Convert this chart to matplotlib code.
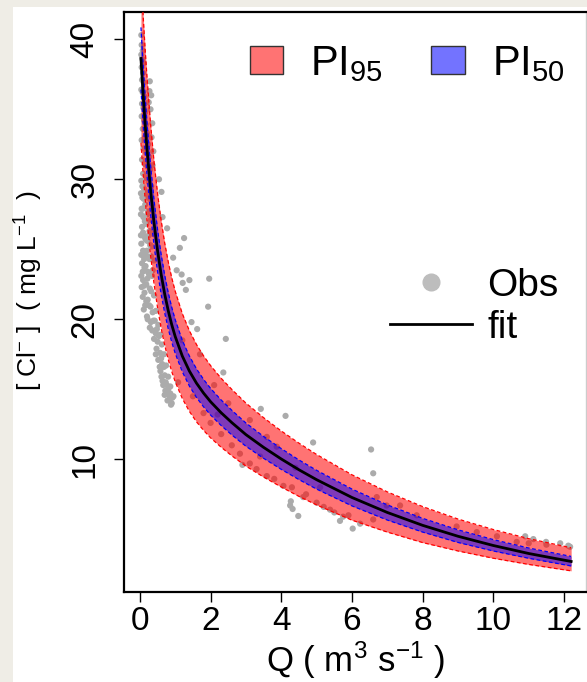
import matplotlib.pyplot as plt
from matplotlib.patches import Patch, Rectangle
from matplotlib.lines import Line2D

plt.rcParams['font.family'] = ['Liberation Sans', 'DejaVu Sans']
plt.rcParams['mathtext.fontset'] = 'custom'
plt.rcParams['mathtext.rm'] = 'Liberation Sans'
plt.rcParams['mathtext.it'] = 'Liberation Sans:italic'

# fitted curve and prediction intervals
q_fit = [0.03, 0.06, 0.1, 0.15, 0.2, 0.3, 0.4, 0.5, 0.6, 0.7, 0.8, 0.9, 1.0,
         1.2, 1.4, 1.6, 1.8, 2.0, 2.3, 2.6, 3.0, 3.5, 4.0, 4.5, 5.0, 6.0, 7.0,
         8.0, 9.0, 10.0, 11.0, 12.2]
c_fit = [38.63, 37.33, 35.72, 33.88, 32.20, 29.29, 26.89, 24.89, 23.22, 21.82,
         20.63, 19.62, 18.76, 17.37, 16.30, 15.44, 14.73, 14.11, 13.32, 12.62,
         11.76, 10.85, 10.02, 9.25, 8.54, 7.27, 6.20, 5.28, 4.50, 3.84, 3.27, 2.70]
up95 = [44.6, 43.16, 41.32, 39.22, 37.31, 33.99, 31.25, 28.97, 27.07, 25.47,
        24.12, 22.97, 21.99, 20.40, 19.18, 18.20, 17.39, 16.69, 15.78, 14.99,
        14.01, 12.97, 12.02, 11.15, 10.34, 8.89, 7.67, 6.62, 5.73, 4.98, 4.33, 3.68]
lo95 = [32.6, 31.50, 30.12, 28.54, 27.09, 24.59, 22.53, 20.81, 19.37, 18.17,
        17.14, 16.27, 15.53, 14.34, 13.42, 12.68, 12.07, 11.53, 10.86, 10.25,
        9.51, 8.73, 8.02, 7.35, 6.74, 5.65, 4.80, 4.05, 3.45, 2.93, 2.49, 2.03]
up50 = [40.85, 39.49, 37.79, 35.86, 34.09, 31.03, 28.50, 26.40, 24.64, 23.17,
        21.92, 20.86, 19.96, 18.49, 17.37, 16.46, 15.71, 15.06, 14.23, 13.50,
        12.59, 11.63, 10.76, 9.95, 9.21, 7.87, 6.74, 5.78, 4.96, 4.26, 3.66, 3.06]
lo50 = [36.41, 35.17, 33.65, 31.90, 30.31, 27.55, 25.28, 23.38, 21.80, 20.47,
        19.34, 18.38, 17.56, 16.25, 15.23, 14.42, 13.75, 13.16, 12.41, 11.74,
        10.93, 10.07, 9.28, 8.55, 7.87, 6.67, 5.66, 4.80, 4.06, 3.45, 2.93, 2.38]

# observations (Q, [Cl-])
obs_q = [0.04, 0.05, 0.04, 0.07, 0.05, 0.09, 0.06, 0.11, 0.04, 0.08, 0.13, 0.06,
         0.10, 0.15, 0.05, 0.12, 0.17, 0.08, 0.20, 0.14, 0.05, 0.23, 0.10, 0.18,
         0.26, 0.06, 0.13, 0.22, 0.29, 0.09, 0.17, 0.04, 0.25, 0.32, 0.12, 0.20,
         0.07, 0.28, 0.15, 0.35, 0.05, 0.23, 0.10, 0.31, 0.18, 0.06, 0.27, 0.38,
         0.13, 0.21, 0.04, 0.33, 0.09, 0.17, 0.27, 0.40, 0.06, 0.13, 0.22, 0.34,
         0.09, 0.18, 0.05, 0.28, 0.13, 0.40, 0.22,
         0.08, 0.10, 0.28, 0.32, 0.30, 0.35, 0.33, 0.38, 0.36, 0.27, 0.25,
         0.03, 0.07, 0.11, 0.19, 0.03, 0.08, 0.14, 0.21, 0.25, 0.03, 0.09, 0.16,
         0.29, 0.04, 0.12, 0.20, 0.31, 0.08, 0.16, 0.26, 0.36, 0.04, 0.12, 0.21,
         0.32, 0.08, 0.18, 0.26, 0.36, 0.11, 0.22, 0.31, 0.42, 0.35, 0.48, 0.40,
         0.54, 0.45, 0.60, 0.56, 0.68, 0.61, 0.73, 0.66, 0.80, 0.70, 0.86, 0.84,
         0.95, 0.88,
         0.15, 0.30, 0.45, 0.20, 0.38, 0.52, 0.28, 0.45, 0.58, 0.50, 0.62, 0.47,
         0.57, 0.68, 0.52, 0.63, 0.74, 0.58, 0.70, 0.80, 0.64, 0.76, 0.86, 0.72,
         0.82, 0.92, 0.78, 0.90,
         0.54, 0.61, 0.64, 0.77, 1.25, 1.13, 0.94, 1.04, 1.18, 1.40, 1.96, 1.21,
         1.30, 1.93, 1.46, 1.62, 2.43, 2.36, 1.08, 3.42, 4.12, 4.90, 6.54, 6.60,
         4.27, 4.25, 4.32, 4.48, 6.02, 5.66, 10.9, 11.13, 11.49, 11.89, 12.12, 12.17,
         1.2, 1.5, 1.7, 1.8, 2.0, 2.1, 2.2, 2.3, 2.5, 2.6, 2.83, 3.11, 3.11, 3.59,
         3.59, 3.87, 4.06, 4.62, 5.0, 5.38, 5.75, 6.23, 6.6, 6.7, 6.98, 7.36, 7.83,
         8.96, 9.53, 10.1, 10.66, 11.0, 11.5,
         2.9, 3.3, 3.8, 4.3, 4.7, 5.2, 5.5, 5.9, 3.4, 4.4, 5.1]
obs_c = [40.3, 39.6, 38.9, 38.6, 38.0, 37.6, 37.1, 36.9, 36.4, 36.2, 35.9, 35.4,
         35.1, 34.8, 34.5, 34.2, 33.9, 33.6, 33.3, 33.0, 32.8, 32.5, 32.2, 31.9,
         31.6, 31.4, 31.1, 30.9, 30.7, 30.4, 30.1, 29.9, 29.8, 29.5, 29.3, 29.0,
         28.7, 28.6, 28.2, 28.0, 27.9, 27.7, 27.3, 27.1, 26.8, 26.6, 26.3, 26.1,
         25.9, 25.6, 25.4, 25.2, 24.9, 24.6, 24.3, 24.2, 24.0, 23.7, 23.4, 23.1,
         22.8, 22.5, 22.3, 22.2, 21.9, 21.7, 21.4,
         39.2, 38.3, 37.0, 36.0, 35.0, 34.0, 33.0, 32.0, 31.0, 36.3, 35.5,
         29.0, 29.5, 28.6, 28.9, 27.5, 27.9, 27.0, 27.5, 26.0, 26.0, 26.2, 25.7,
         25.3, 24.6, 24.3, 24.9, 24.5, 23.4, 23.8, 23.2, 23.5, 23.1, 22.4, 22.9,
         22.0, 21.6, 21.3, 21.0, 20.5, 20.7, 20.0, 19.8, 19.9, 19.2, 19.3, 18.6,
         18.8, 17.5, 17.2, 16.6, 16.6, 15.9, 15.5, 15.3, 15.0, 14.6, 14.7, 14.3,
         14.5, 13.9,
         21.0, 20.9, 20.6, 20.2, 19.9, 19.6, 19.4, 19.0, 18.9, 18.4, 18.2, 17.9,
         17.6, 17.5, 17.1, 16.8, 16.7, 16.3, 16.0, 15.9, 15.6, 15.3, 15.2, 14.9,
         14.6, 14.4, 14.2, 14.0,
         30.0, 29.1, 27.3, 26.5, 25.8, 25.1, 24.4, 23.5, 23.2, 22.8, 22.9, 22.6,
         22.1, 20.9, 19.8, 19.3, 18.6, 16.2, 15.5, 13.6, 13.1, 11.2, 10.7, 9.0,
         7.0, 6.7, 6.45, 5.95, 5.05, 5.6, 4.5, 4.3, 4.1, 4.0, 3.83, 3.75,
         18.5, 14.5, 17.5, 13.3, 12.6, 15.3, 13.2, 11.8, 14.0, 11.0, 10.4, 12.8, 9.7, 11.6,
         8.8, 10.9, 8.1, 7.3, 6.9, 6.4, 5.9, 5.4, 5.7, 7.3, 6.7, 6.7, 6.0,
         5.2, 4.8, 4.5, 4.1, 4.0, 3.9,
         9.6, 9.3, 8.6, 8.0, 7.5, 6.6, 6.2, 6.0, 10.2, 9.4, 8.0]

fig = plt.figure(figsize=(5.87, 6.82), dpi=100, facecolor='#efede6')
fig.patches.append(Rectangle((13 / 587, 0), 1, 1 - 7 / 682, transform=fig.transFigure,
                             facecolor='white', edgecolor='none', zorder=-1))
ax = fig.add_axes([124 / 587, 1 - 592 / 682, 462 / 587, 580 / 682])

ax.scatter(obs_q, obs_c, s=20, color='#ababab', edgecolors='none', zorder=1)
ax.fill_between(q_fit, lo95, up95, color='#ff0000', alpha=0.55, lw=0, zorder=2)
ax.fill_between(q_fit, lo50, up50, color='#0000ff', alpha=0.5, lw=0, zorder=3)
for b in (lo95, up95):
    ax.plot(q_fit, b, color='#ff0000', lw=0.9, ls=(0, (3, 2)), zorder=4)
for b in (lo50, up50):
    ax.plot(q_fit, b, color='#0000ff', lw=0.9, ls=(0, (3, 2)), zorder=4)
ax.plot(q_fit, c_fit, color='black', lw=2, zorder=5)

ax.set_xlim(-0.45, 12.62)
ax.set_ylim(0.52, 41.95)
ax.set_xticks([0, 2, 4, 6, 8, 10, 12])
ax.set_yticks([10, 20, 30, 40])
ax.tick_params(axis='both', labelsize=24, length=7, width=1)
ax.tick_params(axis='x', pad=3)
ax.tick_params(axis='y', pad=10, labelrotation=90)
for lab in ax.get_yticklabels():
    lab.set_va('center')
for s in ('left', 'bottom', 'top'):
    ax.spines[s].set_linewidth(1.6)
ax.spines['right'].set_color('#cccccc')
ax.spines['right'].set_linewidth(1)

ax.set_xlabel('Q ( m$^{3}$ s$^{-1}$ )', fontsize=25, labelpad=2)
ax.set_ylabel('[ Cl$^{-}$ ]  ( mg L$^{-1}$  )', fontsize=19)
ax.yaxis.set_label_coords(-0.172, 0.52)

h1 = [Patch(facecolor='#ff7373', edgecolor='#333333', lw=1),
      Patch(facecolor='#7373ff', edgecolor='#333333', lw=1)]
leg1 = ax.legend(h1, ['PI$_{95}$', 'PI$_{50}$'], ncol=2, fontsize=30, frameon=False,
                 loc='upper left', bbox_to_anchor=(0.2727, 0.945), handlelength=0.8,
                 handleheight=0.65, handletextpad=0.65, columnspacing=1.15,
                 borderpad=0, borderaxespad=0)
ax.add_artist(leg1)
h2 = [Line2D([], [], marker='o', ls='none', color='#bdbdbd', markersize=12),
      Line2D([], [], color='black', lw=2)]
ax.legend(h2, ['Obs', 'fit'], fontsize=28, frameon=False, loc='upper right',
          bbox_to_anchor=(1.0, 0.6055), handlelength=2.1, handletextpad=0.4,
          labelspacing=0.15, borderpad=0.2)

fig.savefig('out.png', dpi=100, facecolor=fig.get_facecolor())
